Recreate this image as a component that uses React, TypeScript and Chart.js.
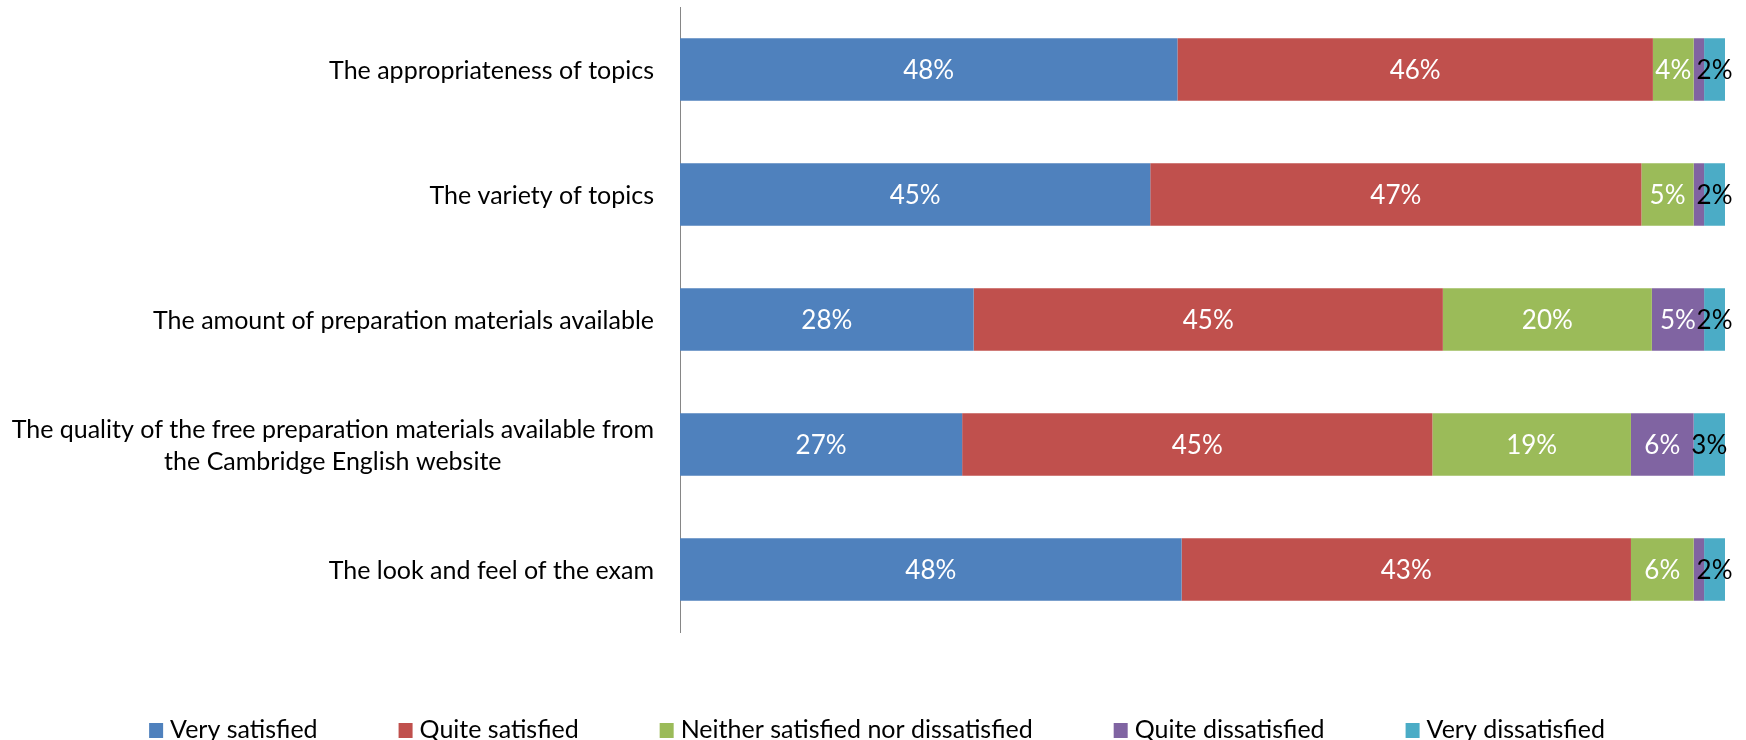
import React, { useEffect, useRef } from "react";
import { Chart, registerables } from "chart.js";
Chart.register(...registerables);

const categories: string[][] = [
  ["The appropriateness of topics"],
  ["The variety of topics"],
  ["The amount of preparation materials available"],
  ["The quality of the free preparation materials available from", "the Cambridge English website"],
  ["The look and feel of the exam"],
];
const seriesNames = [
  "Very satisfied",
  "Quite satisfied",
  "Neither satisfied nor dissatisfied",
  "Quite dissatisfied",
  "Very dissatisfied",
];
const verySatisfied = [47.6, 45.0, 28.1, 27.0, 48.0];
const quiteSatisfied = [45.5, 47.0, 44.9, 45.0, 43.0];
const neitherSatisfied = [3.9, 5.0, 20.0, 19.0, 6.0];
const quiteDissatisfied = [1.0, 1.0, 5.0, 6.0, 1.0];
const veryDissatisfied = [2.0, 2.0, 2.0, 3.0, 2.0];
const seriesValues = [verySatisfied, quiteSatisfied, neitherSatisfied, quiteDissatisfied, veryDissatisfied];
const colors = ["#4F81BD", "#C0504D", "#9BBB59", "#8064A2", "#4BACC6"];
const labelColors = ["#ffffff", "#ffffff", "#ffffff", "#ffffff", "#000000"];

const FONT = "Lato";
const FONT_SIZE = 25;
const DATA_FONT_SIZE = 26;

const dataLabelPlugin = {
  id: "dataLabels",
  afterDatasetsDraw(chart: any) {
    const ctx = chart.ctx;
    ctx.save();
    ctx.font = `${DATA_FONT_SIZE}px ${FONT}`;
    ctx.textAlign = "center";
    ctx.textBaseline = "middle";
    chart.data.datasets.forEach((ds: any, i: number) => {
      const meta = chart.getDatasetMeta(i);
      meta.data.forEach((bar: any, j: number) => {
        const v = ds.data[j];
        if (v < 1.5) return;
        const { x, base, y } = bar.getProps(["x", "base", "y"], true);
        ctx.fillStyle = labelColors[i];
        ctx.fillText(Math.round(v) + "%", (x + base) / 2, y + 1);
      });
    });
    ctx.restore();
  },
};

const categoryLabelPlugin = {
  id: "categoryLabels",
  afterDraw(chart: any) {
    const ctx = chart.ctx;
    const yScale = chart.scales.y;
    const right = chart.chartArea.left - 26;
    const lineH = 32;
    ctx.save();
    ctx.font = `${FONT_SIZE}px ${FONT}`;
    ctx.fillStyle = "#000000";
    ctx.textBaseline = "middle";
    categories.forEach((lines, j) => {
      const yc = yScale.getPixelForValue(j);
      const startY = yc - ((lines.length - 1) * lineH) / 2;
      if (lines.length === 1) {
        ctx.textAlign = "right";
        ctx.fillText(lines[0], right, yc + 1);
      } else {
        const maxW = Math.max(...lines.map((l) => ctx.measureText(l).width));
        ctx.textAlign = "center";
        lines.forEach((l, k) => ctx.fillText(l, right - maxW / 2, startY + k * lineH + 1));
      }
    });
    ctx.restore();
  },
};

const legendPlugin = {
  id: "customLegend",
  afterDraw(chart: any) {
    const ctx = chart.ctx;
    const box = 14;
    const textGap = 7;
    const itemGap = 81;
    const yc = 730;
    ctx.save();
    ctx.font = `${FONT_SIZE}px ${FONT}`;
    ctx.textBaseline = "middle";
    ctx.textAlign = "left";
    const widths = seriesNames.map((n) => box + textGap + ctx.measureText(n).width);
    const total = widths.reduce((a, b) => a + b, 0) + itemGap * (seriesNames.length - 1);
    let x = (chart.width - total) / 2 + 4;
    seriesNames.forEach((n, i) => {
      ctx.fillStyle = colors[i];
      ctx.fillRect(x, yc - 7, box, 15);
      ctx.fillStyle = "#000000";
      ctx.fillText(n, x + box + textGap, yc);
      x += widths[i] + itemGap;
    });
    ctx.restore();
  },
};

export default function App() {
  const ref = useRef<HTMLCanvasElement>(null);
  useEffect(() => {
    if (!ref.current) return;
    const chart = new Chart(ref.current, {
      type: "bar",
      data: {
        labels: categories.map((c) => c.join(" ")),
        datasets: seriesNames.map((name, i) => ({
          label: name,
          data: seriesValues[i],
          backgroundColor: colors[i],
          borderWidth: 0,
          categoryPercentage: 1,
          barPercentage: 0.5,
        })),
      },
      options: {
        indexAxis: "y",
        animation: false,
        responsive: false,
        devicePixelRatio: 1,
        layout: { padding: { left: 680, right: 21, top: 7, bottom: 108 } },
        plugins: { legend: { display: false }, tooltip: { enabled: false } },
        scales: {
          x: { stacked: true, min: 0, max: 100, display: false },
          y: {
            stacked: true,
            ticks: { display: false },
            grid: { display: false, drawTicks: false },
            border: { display: true, color: "#868686", width: 1 },
          },
        },
      },
      plugins: [dataLabelPlugin, categoryLabelPlugin, legendPlugin],
    });
    return () => chart.destroy();
  }, []);
  return (
    <div style={{ position: "fixed", left: 0, top: 0, width: 1746, height: 740, background: "#fff" }}>
      <canvas ref={ref} width={1746} height={740} />
    </div>
  );
}
